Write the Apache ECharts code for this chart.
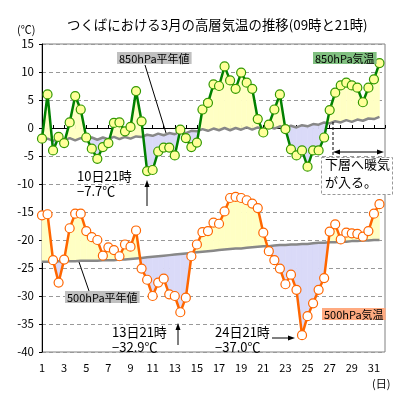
<!DOCTYPE html>
<html><head><meta charset="utf-8">
<script src="https://cdn.jsdelivr.net/npm/echarts@6/dist/echarts.min.js"></script>
<style>html,body{margin:0;padding:0;background:#fff}#c{width:400px;height:400px}</style>
</head><body><div id="c"></div>
<script>
// Days of March, two observations per day (09 and 21)
const days = [1,2,3,4,5,6,7,8,9,10,11,12,13,14,15,16,17,18,19,20,21,22,23,24,25,26,27,28,29,30,31];
const obsOffsets = [0, 0.5]; // 09時, 21時
const xTickLabels = ['1','3','5','7','9','11','13','15','17','19','21','23','25','27','29','31'];
const yTicks = [15,10,5,0,-5,-10,-15,-20,-25,-30,-35,-40];

// 850hPa temperature
const t850 = [-1.9,6.0,-4.0,-1.6,-2.7,1.0,5.7,3.3,-1.7,-3.7,-5.5,-3.4,-2.7,0.9,1.0,-0.6,0.2,6.6,1.2,-7.7,
  -7.5,-4.2,-3.5,-3.5,-4.9,-0.3,-1.8,-3.4,-2.6,3.3,4.5,7.8,7.5,11.0,8.5,7.0,9.9,8.1,7.0,1.6,
  -0.8,0.6,3.3,6.0,-0.2,-3.8,-4.9,-4.0,-6.9,-4.0,-4.0,-1.7,3.2,6.3,7.6,8.1,7.6,7.2,4.6,7.2,8.7,11.6];
// 850hPa normal
const n850 = [-2.3,-1.9,-2.3,-1.9,-2.2,-1.8,-2.2,-1.8,-2.1,-1.7,-2.1,-1.7,-2.0,-1.6,-2.0,-1.6,-1.9,-1.5,-1.6,-1.2,
  -1.4,-1.0,-1.3,-0.9,-1.1,-0.7,-0.9,-0.5,-0.6,-0.2,-0.5,-0.1,-0.4,0.0,-0.4,0.0,-0.3,0.1,-0.3,0.1,
  -0.2,0.2,-0.1,0.3,0.0,0.4,0.1,0.5,0.3,0.7,0.6,1.0,0.8,1.2,1.0,1.4,1.1,1.5,1.3,1.7,1.6,2.0];
// 500hPa temperature
const t500 = [-15.6,-15.4,-23.6,-27.6,-23.5,-17.9,-15.3,-15.3,-18.4,-19.5,-20.0,-22.8,-21.3,-21.8,-22.9,-20.8,-21.2,-18.3,-25.1,-27.1,
  -30.0,-27.6,-26.9,-29.7,-30.0,-32.9,-30.3,-22.9,-20.8,-18.6,-18.4,-16.9,-17.1,-14.9,-12.5,-12.3,-12.5,-12.9,-13.5,-14.3,
  -18.7,-22.0,-23.6,-25.1,-27.9,-26.2,-28.9,-37.0,-33.6,-31.3,-28.9,-26.8,-18.5,-17.2,-19.9,-18.7,-18.8,-18.9,-19.4,-18.4,-15.3,-13.6];
// 500hPa normal
const n500 = [-23.9,-23.9,-23.9,-23.8,-23.8,-23.8,-23.8,-23.7,-23.7,-23.7,-23.7,-23.6,-23.6,-23.6,-23.5,-23.5,-23.4,-23.3,-23.2,-23.1,
  -23.0,-22.9,-22.8,-22.7,-22.6,-22.5,-22.4,-22.3,-22.2,-22.1,-22.0,-21.9,-21.8,-21.7,-21.6,-21.5,-21.5,-21.4,-21.3,-21.2,
  -21.1,-21.1,-21.0,-20.9,-20.9,-20.8,-20.8,-20.7,-20.7,-20.6,-20.5,-20.5,-20.4,-20.4,-20.3,-20.3,-20.2,-20.2,-20.1,-20.1,-20.0,-20.0];

const xs = days.flatMap(d => obsOffsets.map(o => d + o));
const YEL = '#FFFFC4', LAV = '#DADAF8';
const FONT = '"Noto Sans CJK JP", sans-serif';

function band(actual, normal) {
  return {
    type: 'custom', silent: true, z: 1,
    data: actual.slice(0, -1).map((v, i) => [xs[i], v]),
    encode: {x: 0, y: 1},
    renderItem: (params, api) => {
      const i = params.dataIndex;
      const x0 = xs[i], x1 = xs[i+1], a0 = actual[i], a1 = actual[i+1], m0 = normal[i], m1 = normal[i+1];
      const d0 = a0 - m0, d1 = a1 - m1;
      const P = (x, y) => api.coord([x, y]);
      const col = d => d >= 0 ? YEL : LAV;
      const poly = (pts, c) => ({type: 'polygon', shape: {points: pts}, style: {fill: c, stroke: c, lineWidth: 0.6}});
      const ch = [];
      if (d0 * d1 >= 0) {
        ch.push(poly([P(x0,a0), P(x1,a1), P(x1,m1), P(x0,m0)], col(d0 + d1)));
      } else {
        const t = d0 / (d0 - d1), xc = x0 + t*(x1-x0), yc = a0 + t*(a1-a0);
        ch.push(poly([P(x0,a0), P(xc,yc), P(x0,m0)], col(d0)));
        ch.push(poly([P(xc,yc), P(x1,a1), P(x1,m1)], col(d1)));
      }
      return {type: 'group', children: ch};
    }
  };
}
const pairs = arr => arr.map((v, i) => [xs[i], v]);

function arrowHead(x, y, dir) {
  let pts;
  if (dir === 'up') pts = [[x, y], [x-2.5, y+7], [x+2.5, y+7]];
  else if (dir === 'right') pts = [[x, y], [x-7, y-2.5], [x-7, y+2.5]];
  else pts = [[x, y], [x+7, y-2.5], [x+7, y+2.5]];
  return {type: 'polygon', z: 100, shape: {points: pts}, style: {fill: '#000'}};
}
function txt(x, y, s, extra) {
  return {type: 'text', z: 100, left: x, top: y, style: Object.assign({text: s, fill: '#000', font: '13px ' + FONT}, extra || {})};
}
function seg(x1, y1, x2, y2, extra) {
  return {type: 'line', z: 100, shape: {x1, y1, x2, y2}, style: Object.assign({stroke: '#000', lineWidth: 1}, extra || {})};
}

const chart = echarts.init(document.getElementById('c'), null, {renderer: 'canvas'});
chart.setOption({
  animation: false,
  backgroundColor: '#fff',
  title: {text: 'つくばにおける3月の高層気温の推移(09時と21時)', left: 62, top: 13,
    textStyle: {fontSize: 13.4, fontWeight: 'normal', color: '#000', fontFamily: FONT}},
  grid: {left: 42, right: 15, top: 44, bottom: 48, show: true, borderColor: '#808080', borderWidth: 1, backgroundColor: 'transparent'},
  xAxis: {type: 'value', min: 1, max: 32, interval: 1,
    axisLine: {lineStyle: {color: '#000', width: 1}},
    axisTick: {show: true, inside: true, length: 3, lineStyle: {color: '#000'}},
    splitLine: {show: false},
    axisLabel: {color: '#000', fontSize: 11, fontFamily: FONT, margin: 10,
      formatter: v => xTickLabels.includes(String(v)) ? String(v) : ''}},
  yAxis: {type: 'value', min: -40, max: 15, interval: 5,
    axisLine: {show: true, lineStyle: {color: '#000', width: 1}},
    axisTick: {show: true, length: 3, lineStyle: {color: '#000'}},
    splitLine: {show: true, lineStyle: {color: '#999', type: [4, 3], width: 1}},
    axisLabel: {color: '#000', fontSize: 11.5, fontFamily: FONT, margin: 8,
      formatter: v => yTicks.includes(v) ? String(v) : ''}},
  series: [
    band(t850, n850),
    band(t500, n500),
    {type: 'line', z: 3, data: pairs(n850), symbol: 'none', lineStyle: {color: '#888', width: 2.5}, silent: true},
    {type: 'line', z: 3, data: pairs(n500), symbol: 'none', lineStyle: {color: '#888', width: 2.5}, silent: true},
    {type: 'line', z: 5, data: pairs(t850), symbol: 'circle', symbolSize: 9, showAllSymbol: true,
      lineStyle: {color: '#008000', width: 2.5},
      itemStyle: {color: '#FFFF99', borderColor: '#339900', borderWidth: 1.2}},
    {type: 'line', z: 5, data: pairs(t500), symbol: 'circle', symbolSize: 9, showAllSymbol: true,
      lineStyle: {color: '#FF6600', width: 2.5},
      itemStyle: {color: '#FFFFFF', borderColor: '#FF6600', borderWidth: 1.2}}
  ],
  graphic: [
    txt(17, 24, '(℃)', {font: '11px ' + FONT}),
    txt(372, 378, '(日)', {font: '11px ' + FONT}),
    seg(145, 65, 166, 133),
    txt(117, 52, '850hPa平年値', {font: '11px ' + FONT, backgroundColor: '#C0C0C0', padding: [1, 2, 0, 2]}),
    txt(313, 52, '850hPa気温', {font: '11px ' + FONT, backgroundColor: '#80C080', padding: [1, 2, 0, 2]}),
    txt(77, 170, '10日21時'),
    txt(77, 185, '−7.7℃'),
    seg(147, 206, 147, 185), arrowHead(147, 180, 'up'),
    seg(79, 262, 89, 291),
    txt(65, 291, '500hPa平年値', {font: '11px ' + FONT, backgroundColor: '#C0C0C0', padding: [1, 2, 0, 2]}),
    txt(322, 308, '500hPa気温', {font: '11px ' + FONT, backgroundColor: '#FFAA80', padding: [1, 2, 0, 2]}),
    txt(112, 326, '13日21時'),
    txt(112, 341, '−32.9℃'),
    seg(178, 345, 178, 328), arrowHead(178, 323, 'up'),
    txt(215, 326, '24日21時'),
    txt(215, 341, '−37.0℃'),
    seg(272, 338, 290, 338), arrowHead(295, 338, 'right'),
    seg(333, 122, 333, 157, {lineDash: [3, 2]}),
    seg(338, 152, 379, 152), arrowHead(333, 152, 'left'), arrowHead(384, 152, 'right'),
    {type: 'rect', z: 99, shape: {x: 321.5, y: 157.5, width: 71, height: 37}, style: {fill: '#fff', stroke: '#999', lineDash: [3, 2], lineWidth: 1}},
    txt(325, 158, '下層へ暖気'),
    txt(325, 176, 'が入る。')
  ]
});
</script></body></html>
